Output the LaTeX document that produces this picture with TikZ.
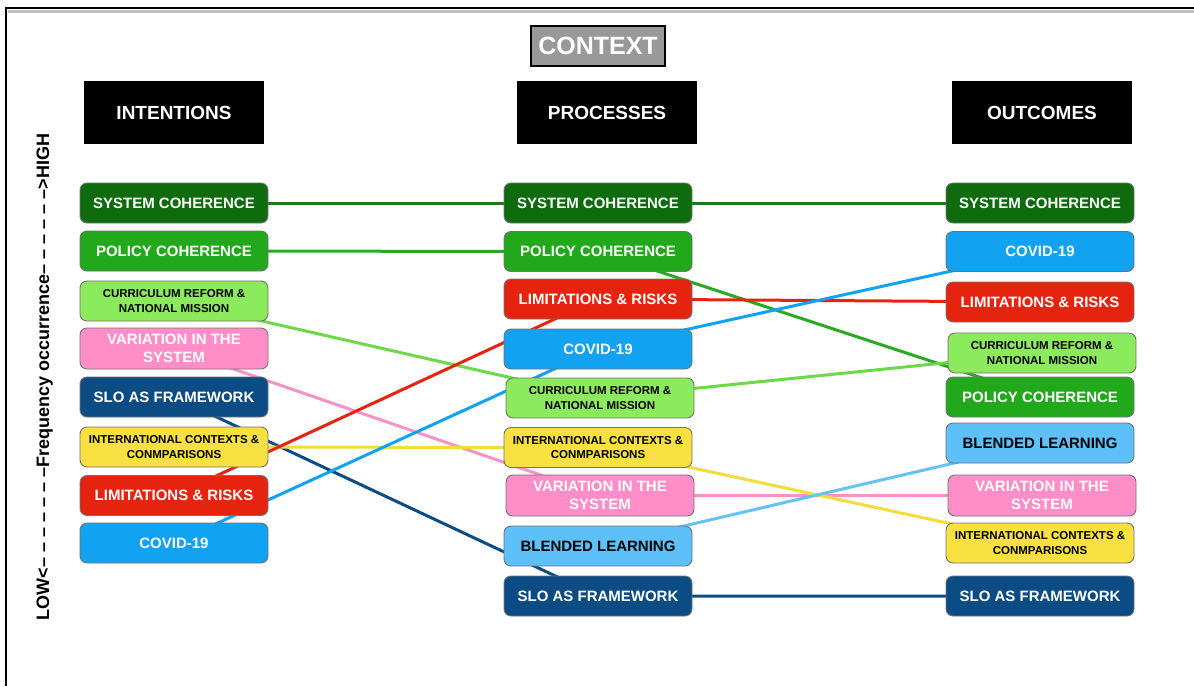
\documentclass[tikz,border=0pt]{standalone}
\usepackage{fontspec}
\setmainfont{Liberation Sans}
\definecolor{sysg}{HTML}{0E6B0E}
\definecolor{polg}{HTML}{22A81B}
\definecolor{curg}{HTML}{8CEB5C}
\definecolor{pnk}{HTML}{FF8DC8}
\definecolor{slob}{HTML}{0C4C84}
\definecolor{yel}{HTML}{F8E040}
\definecolor{rd}{HTML}{E6230F}
\definecolor{cov}{HTML}{12A2F2}
\definecolor{ble}{HTML}{5EC0F8}
\definecolor{sysl}{HTML}{1B7B1B}
\definecolor{poll}{HTML}{2AAA22}
\definecolor{curl}{HTML}{6CD84A}
\definecolor{pnkl}{HTML}{F592C8}
\definecolor{yell}{HTML}{F5DC3C}
\definecolor{blel}{HTML}{66C2F5}
\definecolor{ctxg}{HTML}{999999}
\pgfdeclarelayer{background}
\pgfsetlayers{background,main}
\begin{document}
\begin{tikzpicture}[x=1pt,y=-1pt,
  box/.style={draw=black!55, line width=0.9pt, rounded corners=7pt,
    minimum width=188pt, minimum height=40pt, inner sep=1pt,
    font=\bfseries\fontsize{15}{18}\selectfont, align=center, text=white},
  small/.style={font=\bfseries\fontsize{11.5}{14.5}\selectfont, text=black},
  dark/.style={text=black},
  conn/.style={line width=3pt},
  hdr/.style={fill=black, text=white, minimum width=180pt, minimum height=63pt,
    inner sep=0pt, font=\bfseries\fontsize{19}{22}\selectfont},
]
\useasboundingbox (0,0) rectangle (1194,686);
% frame
\draw[line width=2.5pt, black!25] (8,11.5) -- (1194,11.5);
\draw[line width=2.2pt] (6,686) -- (6,8) -- (1194,8);

% context and headers
\node[fill=ctxg, draw=black, line width=2pt, minimum width=134pt, minimum height=40pt,
  inner sep=0pt, text=white, font=\bfseries\fontsize{25}{28}\selectfont] (ctx) at (598,46) {CONTEXT};
\node[hdr] (hInt) at (174,112.5) {INTENTIONS};
\node[hdr] (hPro) at (607,112.5) {PROCESSES};
\node[hdr] (hOut) at (1042,112.5) {OUTCOMES};

% vertical axis label
\node[rotate=90, anchor=base, inner sep=0pt, font=\bfseries\fontsize{18}{20}\selectfont] (axis) at (49,377)
  {LOW<– – – – – – –Frequency occurrence– – – – – –>HIGH};

% intentions
\node[box, fill=sysg] (iSys) at (174,203) {SYSTEM COHERENCE};
\node[box, fill=polg] (iPol) at (174,251) {POLICY COHERENCE};
\node[box, small, fill=curg] (iCur) at (174,301) {CURRICULUM REFORM \&\\NATIONAL MISSION};
\node[box, fill=pnk, minimum height=41pt] (iVar) at (174,348.5) {VARIATION IN THE\\SYSTEM};
\node[box, fill=slob] (iSlo) at (174,397) {SLO AS FRAMEWORK};
\node[box, small, fill=yel] (iInt) at (174,447) {INTERNATIONAL CONTEXTS \&\\CONMPARISONS};
\node[box, fill=rd] (iLim) at (174,495.5) {LIMITATIONS \& RISKS};
\node[box, fill=cov] (iCov) at (174,543) {COVID-19};

% processes
\node[box, fill=sysg] (pSys) at (598,203) {SYSTEM COHERENCE};
\node[box, fill=polg] (pPol) at (598,251.5) {POLICY COHERENCE};
\node[box, fill=rd] (pLim) at (598,299) {LIMITATIONS \& RISKS};
\node[box, fill=cov] (pCov) at (598,349) {COVID-19};
\node[box, small, fill=curg] (pCur) at (600,398) {CURRICULUM REFORM \&\\NATIONAL MISSION};
\node[box, small, fill=yel] (pInt) at (598,447.5) {INTERNATIONAL CONTEXTS \&\\CONMPARISONS};
\node[box, fill=pnk, minimum height=41pt] (pVar) at (600,495.5) {VARIATION IN THE\\SYSTEM};
\node[box, dark, fill=ble] (pBle) at (598,546) {BLENDED LEARNING};
\node[box, fill=slob] (pSlo) at (598,596) {SLO AS FRAMEWORK};

% outcomes
\node[box, fill=sysg] (oSys) at (1040,203) {SYSTEM COHERENCE};
\node[box, fill=cov] (oCov) at (1040,251.5) {COVID-19};
\node[box, fill=rd] (oLim) at (1040,302) {LIMITATIONS \& RISKS};
\node[box, small, fill=curg] (oCur) at (1042,353) {CURRICULUM REFORM \&\\NATIONAL MISSION};
\node[box, fill=polg] (oPol) at (1040,397) {POLICY COHERENCE};
\node[box, dark, fill=ble] (oBle) at (1040,443) {BLENDED LEARNING};
\node[box, fill=pnk, minimum height=41pt] (oVar) at (1042,495.5) {VARIATION IN THE\\SYSTEM};
\node[box, small, fill=yel] (oInt) at (1040,543) {INTERNATIONAL CONTEXTS \&\\CONMPARISONS};
\node[box, fill=slob] (oSlo) at (1040,596) {SLO AS FRAMEWORK};

% connectors behind boxes
\begin{pgfonlayer}{background}
\draw[conn, sysl] (iSys.center) -- (pSys.center) -- (oSys.center);
\draw[conn, poll] (iPol.center) -- (pPol.center) -- (oPol.center);
\draw[conn, curl] (iCur.center) -- (pCur.center) -- (oCur.center);
\draw[conn, pnkl] (iVar.center) -- (pVar.center) -- (oVar.center);
\draw[conn, slob] (iSlo.center) -- (pSlo.center) -- (oSlo.center);
\draw[conn, yell] (iInt.center) -- (pInt.center) -- (oInt.center);
\draw[conn, rd] (iLim.center) -- (pLim.center) -- (oLim.center);
\draw[conn, cov] (iCov.center) -- (pCov.center) -- (oCov.center);
\draw[conn, blel] (pBle.center) -- (oBle.center);
\end{pgfonlayer}
\end{tikzpicture}
\end{document}
